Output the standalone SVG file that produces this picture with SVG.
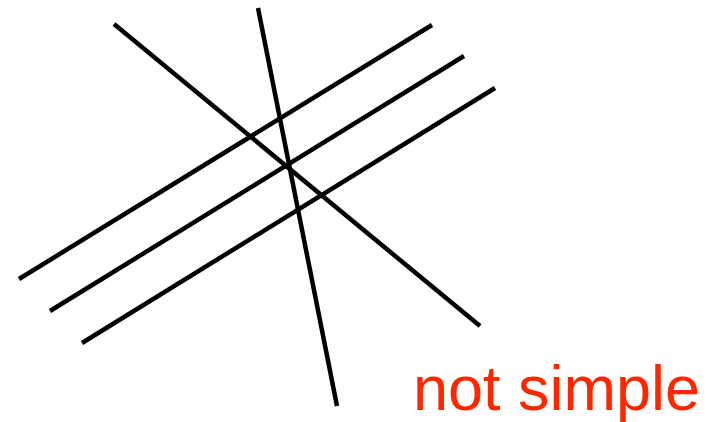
<svg xmlns="http://www.w3.org/2000/svg" width="707" height="422" viewBox="0 0 707 422">
<style>
.ln{stroke:#000;stroke-width:4.5;fill:none;stroke-linecap:butt}
.lbl{font-family:"Liberation Sans",Arial,sans-serif;font-size:63px;fill:#FF2600}
</style>
<rect width="707" height="422" fill="#fff"/>
<g id="connectors">
<line class="ln" x1="114" y1="24" x2="480" y2="326"/>
<line class="ln" x1="258" y1="8" x2="337" y2="406"/>
<line class="ln" x1="19" y1="279" x2="432" y2="25"/>
<line class="ln" x1="50" y1="311" x2="464" y2="56"/>
<line class="ln" x1="82" y1="343" x2="495" y2="88"/>
</g>
<g id="label">
<text class="lbl" x="413" y="410">not simple</text>
</g>
</svg>
